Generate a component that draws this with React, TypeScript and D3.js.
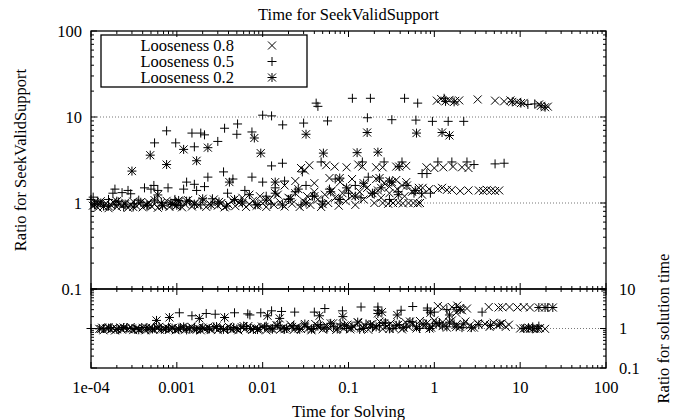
import * as d3 from "d3";

// ---- data: [time for solving, ratio] ----
// upper panel: ratio for SeekValidSupport
const topLoose08: [number, number][] = [
  [1.07, 15.5], [1.2, 16.2], [1.5, 15.8], [1.75, 15.4], [1.95, 15.6], [3.2, 16], [5.1, 15.5], [6.5, 15.2],
  [7.7, 15.6], [9.2, 15], [11, 14.6], [16.6, 14], [21, 13.2],
  [0.031, 2.4], [0.069, 2.65], [0.095, 2.6], [0.145, 2.65], [0.21, 2.6], [0.36, 2.65], [0.47, 2.7], [0.81, 2.6],
  [1.0, 2.55], [1.27, 2.6], [1.65, 2.65], [2.1, 2.6], [2.5, 2.55], [0.028, 2.55], [0.035, 2.75], [0.055, 2.75],
  [0.13, 2.8], [0.25, 2.6],
  [0.73, 1.5], [0.87, 1.45], [1.1, 1.45], [1.23, 1.5], [1.4, 1.42], [1.6, 1.42], [2.0, 1.38], [2.5, 1.4],
  [3.3, 1.4], [3.7, 1.38], [4.1, 1.42], [4.6, 1.4], [5.1, 1.38], [5.7, 1.4],
  [0.25, 1.0], [0.29, 0.98], [0.33, 1.0], [0.38, 1.01], [0.43, 0.99], [0.5, 1.0], [0.57, 1.0], [0.64, 0.99], [0.68, 1.0],
  [0.21, 1.9], [0.26, 1.7], [0.3, 1.55], [0.36, 1.85], [0.42, 1.6], [0.47, 1.75], [0.06, 1.95], [0.08, 1.75],
  [0.11, 1.9], [0.15, 1.6], [0.018, 1.6], [0.024, 1.8], [0.04, 1.7],
  [0.000105, 0.93], [0.00011, 1.02], [0.00012, 0.88], [0.000125, 0.97], [0.00013, 1.05], [0.00014, 0.91],
  [0.00015, 0.99], [0.00016, 0.87], [0.00017, 0.95], [0.00018, 1.03], [0.0002, 0.9], [0.00021, 0.98],
  [0.00023, 0.93], [0.00025, 1.01], [0.00027, 0.88], [0.00029, 0.96], [0.00031, 1.04], [0.00034, 0.92],
  [0.00037, 0.99], [0.0004, 0.89], [0.00043, 0.95], [0.00047, 1.02], [0.00051, 0.91], [0.00055, 0.97],
  [0.0006, 0.88], [0.00065, 1.0], [0.0007, 0.93], [0.00076, 1.06], [0.00082, 0.9], [0.0009, 0.97],
  [0.00098, 0.92], [0.00105, 1.03], [0.00115, 0.89], [0.00125, 0.96], [0.00135, 1.08], [0.0015, 0.91],
  [0.0016, 0.99], [0.0018, 0.94], [0.002, 1.05], [0.0022, 0.9], [0.0024, 0.98], [0.0027, 1.1], [0.003, 0.93],
  [0.0033, 1.0], [0.0036, 0.89], [0.004, 0.96], [0.0044, 1.07], [0.0048, 0.92], [0.0053, 1.0], [0.0058, 1.15],
  [0.0064, 0.9], [0.007, 0.97], [0.0077, 1.06], [0.0085, 0.93], [0.0093, 1.2], [0.01, 0.99], [0.011, 0.9],
  [0.012, 1.1], [0.0135, 0.95], [0.015, 1.25], [0.016, 1.02], [0.018, 0.91], [0.02, 1.15], [0.022, 0.98],
  [0.024, 1.3], [0.027, 0.9], [0.03, 1.05], [0.033, 1.2], [0.036, 0.95], [0.04, 1.35], [0.044, 1.1],
  [0.048, 0.9], [0.053, 1.25], [0.058, 1.0], [0.064, 1.4], [0.07, 1.15], [0.077, 0.93], [0.085, 1.3],
  [0.093, 1.05], [0.1, 1.45], [0.11, 1.2], [0.12, 0.95], [0.135, 1.35], [0.15, 1.1], [0.165, 1.5],
  [0.18, 1.25], [0.2, 1.0], [0.22, 1.4], [0.24, 1.15], [0.3, 1.3], [0.37, 1.45], [0.45, 1.2], [0.55, 1.35],
  [0.66, 1.5], [0.72, 1.25],
];
const topLoose05: [number, number][] = [
  [0.111, 16.5], [0.18, 16.5], [0.45, 16.5], [0.64, 14.5], [1.3, 16.5], [12.3, 14], [14.8, 14.2], [0.042, 14.5], [0.044, 13.3],
  [0.01, 10.5], [0.0127, 10.3], [0.0171, 8.1], [0.03, 8.5], [0.057, 9.0], [0.166, 9.8], [0.32, 9.3], [0.61, 9.2],
  [0.95, 8.9], [1.45, 8.9], [2.2, 8.9],
  [0.00076, 6.9], [0.0015, 6.5], [0.0019, 6.5], [0.0021, 6.2], [0.003, 5.2], [0.0036, 7.4], [0.0051, 8.3],
  [0.005, 6.3], [0.0075, 6.7], [0.00055, 5.0], [0.00097, 5.0], [0.0016, 4.5],
  [0.0127, 2.7], [0.017, 2.9], [0.0023, 2.0], [0.0035, 2.3], [0.0075, 2.0], [0.01, 1.75], [0.029, 2.3],
  [0.048, 3.0], [0.145, 3.0], [0.26, 3.0], [0.42, 3.0], [1.1, 3.0], [1.6, 3.0], [2.4, 3.0], [0.72, 2.2],
  [0.82, 2.2], [0.58, 1.3], [2.9, 2.8], [5.1, 2.85], [6.5, 2.9], [0.71, 1.3], [0.9, 1.3],
  [0.000106, 1.17], [0.00019, 1.45], [0.00027, 1.4], [0.00042, 1.5], [0.0005, 1.45], [0.0006, 1.4],
  [0.00079, 1.5], [0.0012, 1.45], [0.0013, 1.75], [0.0017, 1.4],
  [0.0001, 1.1], [0.00011, 0.97], [0.00012, 1.05], [0.00014, 0.92], [0.00016, 1.1], [0.00018, 1.3],
  [0.00019, 0.95], [0.00021, 1.03], [0.00023, 1.32], [0.00024, 0.9], [0.00029, 1.28], [0.00032, 0.98],
  [0.00036, 1.08], [0.00045, 0.93], [0.00054, 1.6], [0.00066, 1.02], [0.00088, 0.96], [0.00095, 1.1],
  [0.0011, 0.93], [0.0014, 1.05], [0.0016, 1.65], [0.0019, 0.95], [0.0021, 1.55], [0.0026, 1.12],
  [0.003, 0.98], [0.0039, 1.3], [0.0045, 1.9], [0.0056, 1.05], [0.0062, 1.4], [0.0082, 0.95], [0.011, 1.2],
  [0.0125, 0.97], [0.014, 1.5], [0.018, 1.8], [0.02, 1.1], [0.024, 1.35], [0.028, 0.95], [0.032, 1.6],
  [0.038, 1.2], [0.05, 1.05], [0.06, 1.45], [0.07, 1.9], [0.08, 1.1], [0.1, 1.3], [0.12, 1.6], [0.14, 1.15],
  [0.17, 2.0], [0.2, 1.3], [0.3, 1.1], [0.38, 1.35],
];
const topLoose02: [number, number][] = [
  [1.35, 15.2], [1.7, 15], [8.1, 15], [10.2, 14.5], [17.5, 13.5], [19.5, 13],
  [0.0003, 2.35], [0.00049, 3.6], [0.00076, 2.8], [0.0012, 4.2], [0.0017, 3.1], [0.0023, 4.4], [0.008, 5.7],
  [0.0095, 3.8], [0.032, 6.3], [0.051, 3.8], [0.165, 6.6], [0.126, 3.85], [0.22, 3.9], [0.62, 6.5],
  [1.23, 6.6], [1.5, 6.1], [0.39, 2.65], [0.079, 1.95], [0.23, 1.95], [0.32, 1.75], [0.0041, 1.75], [0.014, 1.75],
  [0.00105, 1.07], [0.0006, 1.24],
  [0.00011, 0.95], [0.00013, 1.0], [0.00016, 0.92], [0.0002, 1.05], [0.00025, 0.97], [0.00031, 0.9],
  [0.00038, 1.02], [0.00045, 0.95], [0.00055, 1.08], [0.00068, 0.93], [0.00085, 1.0], [0.001, 0.94],
  [0.0013, 1.05], [0.0016, 0.97], [0.002, 1.12], [0.0025, 0.95], [0.0031, 1.03], [0.0038, 0.92],
  [0.0047, 1.1], [0.0058, 1.0], [0.007, 1.25], [0.0088, 0.96], [0.011, 1.08], [0.014, 1.3], [0.017, 0.95],
  [0.021, 1.12], [0.026, 1.45], [0.032, 1.0], [0.04, 1.2], [0.05, 0.97], [0.062, 1.35], [0.078, 1.1],
  [0.095, 1.5], [0.12, 1.2], [0.15, 1.7], [0.19, 1.3], [0.24, 1.5], [0.3, 1.8], [0.38, 1.25], [0.48, 1.6],
  [0.6, 1.4],
];

// lower panel: ratio for solution time
const botLoose08: [number, number][] = [
  [1.1, 3.7], [1.27, 3.4], [1.6, 3.5], [1.85, 3.8], [2.0, 3.3], [2.4, 3.2], [4.3, 3.5], [5.6, 3.4], [6.2, 3.45],
  [7.5, 3.5], [9.3, 3.4], [11, 3.5], [13, 3.4], [1.8, 2.5], [2.1, 2.9],
  [3.9, 1.3], [4.4, 1.1], [4.9, 1.4], [5.5, 1.2], [6.1, 1.35], [6.8, 1.1], [7.4, 1.25], [10, 1.0], [11.5, 1.02],
  [13, 0.98], [15, 1.0], [17, 1.02], [19.5, 0.98],
  [0.00013, 0.97], [0.000135, 1.05], [0.00014, 0.9], [0.00015, 1.0], [0.00016, 1.08], [0.00017, 0.94],
  [0.00018, 1.02], [0.00019, 0.89], [0.0002, 0.98], [0.00022, 1.06], [0.00023, 0.93], [0.00025, 1.01],
  [0.00027, 0.96], [0.00029, 1.09], [0.00031, 0.91], [0.00034, 1.0], [0.00037, 0.95], [0.0004, 1.04],
  [0.00043, 0.9], [0.00047, 0.99], [0.0005, 1.07], [0.00054, 0.94], [0.00059, 1.02], [0.00064, 0.92],
  [0.0007, 1.0], [0.00076, 1.08], [0.00082, 0.95], [0.0009, 1.03], [0.00097, 0.9], [0.00105, 0.98],
  [0.00115, 1.06], [0.00125, 0.93], [0.00135, 1.0], [0.00148, 1.1], [0.0016, 0.95], [0.00175, 1.03],
  [0.0019, 0.9], [0.0021, 0.99], [0.0023, 1.08], [0.0025, 0.94], [0.0028, 1.02], [0.003, 0.91],
  [0.0033, 1.05], [0.0036, 0.97], [0.004, 1.12], [0.0044, 0.93], [0.0048, 1.01], [0.0052, 0.9],
  [0.0057, 1.08], [0.0062, 0.96], [0.0068, 1.15], [0.0075, 0.92], [0.0082, 1.03], [0.009, 0.97],
  [0.0098, 1.12], [0.011, 0.9], [0.012, 1.05], [0.013, 0.98], [0.0145, 1.2], [0.016, 0.93], [0.0175, 1.08],
  [0.019, 1.0], [0.021, 1.25], [0.023, 0.92], [0.025, 1.1], [0.028, 0.97], [0.031, 1.18], [0.034, 1.02],
  [0.037, 0.9], [0.041, 1.3], [0.045, 1.05], [0.05, 0.95], [0.055, 1.2], [0.06, 1.0], [0.066, 1.35],
  [0.072, 0.92], [0.08, 1.12], [0.088, 1.0], [0.097, 1.25], [0.105, 0.95], [0.115, 1.1], [0.13, 1.4],
  [0.14, 1.0], [0.155, 1.2], [0.17, 0.93], [0.19, 1.3], [0.21, 1.05], [0.23, 1.5], [0.25, 0.97],
  [0.28, 1.15], [0.31, 1.35], [0.34, 1.0], [0.38, 1.25], [0.42, 0.95], [0.46, 1.45], [0.5, 1.1],
  [0.56, 1.3], [0.62, 1.0], [0.68, 1.55], [0.75, 1.15], [0.83, 1.4], [0.92, 1.05], [1.0, 1.6], [1.1, 1.2],
  [1.25, 1.45], [1.4, 1.05], [1.6, 1.6], [1.8, 1.25], [2.0, 1.1], [2.3, 1.5], [2.6, 1.2], [2.9, 1.05], [3.2, 1.35],
];
const botLoose05: [number, number][] = [
  [0.0001, 1.0], [0.00107, 2.5], [0.0015, 2.1], [0.0022, 2.4], [0.0028, 2.3], [0.0047, 2.5], [0.0067, 2.35],
  [0.0071, 2.2], [0.0095, 2.5], [0.0127, 2.8], [0.0166, 2.7], [0.0236, 2.6], [0.04, 2.6], [0.053, 3.2],
  [0.085, 2.8], [0.14, 3.5], [0.22, 3.5], [0.22, 2.9], [0.41, 2.9], [0.56, 3.6], [0.83, 3.3], [0.83, 2.9],
  [1.0, 2.6], [1.4, 3.0], [1.8, 3.4], [3.6, 2.6], [21, 3.4], [16.5, 1.15], [14, 1.1],
  [0.00014, 1.0], [0.00017, 1.05], [0.00021, 0.95], [0.00026, 1.03], [0.00032, 0.97], [0.00039, 1.06],
  [0.00046, 0.93], [0.00055, 1.02], [0.00066, 0.96], [0.0008, 1.08], [0.00095, 0.98], [0.0011, 1.04],
  [0.0013, 0.92], [0.0016, 1.07], [0.0019, 1.0], [0.0023, 0.94], [0.0027, 1.1], [0.0032, 1.0], [0.0039, 0.95],
  [0.0046, 1.06], [0.0055, 1.0], [0.0065, 1.12], [0.0078, 0.95], [0.0093, 1.05], [0.011, 1.15], [0.013, 0.96],
  [0.016, 1.08], [0.019, 1.0], [0.023, 1.2], [0.027, 0.95], [0.033, 1.1], [0.039, 1.0], [0.047, 1.25],
  [0.056, 0.97], [0.067, 1.1], [0.08, 1.3], [0.095, 1.0], [0.11, 1.15], [0.135, 0.95], [0.16, 1.3],
  [0.19, 1.05], [0.23, 1.2], [0.27, 1.4], [0.33, 1.0], [0.39, 1.25], [0.47, 1.1], [0.56, 1.45], [0.67, 1.0],
  [0.8, 1.3], [0.95, 1.15], [1.15, 1.4], [1.4, 1.1], [1.7, 1.3], [2.1, 1.05],
];
const botLoose02: [number, number][] = [
  [0.00058, 1.6], [0.00082, 1.9], [0.00183, 1.8], [0.0036, 1.9], [0.0114, 2.1], [0.0158, 1.8], [0.046, 2.1],
  [0.086, 2.0], [0.22, 2.4], [0.245, 2.6], [0.37, 2.2], [0.9, 2.5], [2.0, 3.0], [16.5, 3.4], [19.5, 3.4],
  [24, 3.4], [1.5, 2.2],
  [0.000125, 0.98], [0.00016, 1.02], [0.0002, 0.95], [0.00024, 1.06], [0.0003, 1.0], [0.00036, 0.93],
  [0.00044, 1.04], [0.00052, 0.97], [0.00062, 1.1], [0.00074, 0.95], [0.00088, 1.02], [0.00105, 0.96],
  [0.0012, 1.1], [0.0014, 0.99], [0.0017, 0.93], [0.002, 1.05], [0.0024, 0.98], [0.0029, 1.12], [0.0035, 0.95],
  [0.0042, 1.03], [0.005, 0.97], [0.006, 1.15], [0.0072, 1.0], [0.0087, 0.94], [0.0105, 1.1], [0.0125, 1.0],
  [0.015, 1.2], [0.018, 0.96], [0.022, 1.1], [0.026, 1.0], [0.031, 1.3], [0.037, 0.96], [0.044, 1.15],
  [0.052, 1.05], [0.062, 1.35], [0.074, 0.97], [0.09, 1.2], [0.107, 1.05], [0.128, 1.45], [0.15, 1.0],
  [0.18, 1.25], [0.21, 1.1], [0.26, 1.35], [0.3, 0.98], [0.36, 1.2], [0.44, 1.05], [0.52, 1.5], [0.62, 1.1],
  [0.74, 1.3], [0.88, 1.0], [1.05, 1.35], [1.25, 1.15], [1.5, 1.45], [1.8, 1.1], [2.2, 1.3], [2.7, 1.05],
  [3.3, 1.25], [4.5, 1.2], [5.8, 1.3], [11, 1.0], [12.5, 1.05], [14, 0.98], [16, 1.0],
];

const seriesNames = ["Looseness 0.8", "Looseness 0.5", "Looseness 0.2"];
const seriesShapes = ["cross", "plus", "star"];
const xTicks = [1e-4, 1e-3, 1e-2, 0.1, 1, 10, 100];
const xTickLabels = ["1e-04", "0.001", "0.01", "0.1", "1", "10", "100"];
const yTopTicks = [0.1, 1, 10, 100];
const yTopLabels = ["0.1", "1", "10", "100"];
const yBotTicks = [0.1, 1, 10];
const yBotLabels = ["0.1", "1", "10"];

const W = 676;
const H = 420;
const txt = { fontFamily: "Liberation Serif, Times New Roman, serif", fontSize: 16.5 };

function marker(shape: string, cx: number, cy: number) {
  const p = 4.5;
  const c = 4;
  const plus = `M${cx - p},${cy}H${cx + p}M${cx},${cy - p}V${cy + p}`;
  const cross = `M${cx - c},${cy - c}L${cx + c},${cy + c}M${cx - c},${cy + c}L${cx + c},${cy - c}`;
  if (shape === "plus") return plus;
  if (shape === "cross") return cross;
  return plus + cross;
}

const isMajor = (v: number) => Math.abs(Math.log10(v) - Math.round(Math.log10(v))) < 1e-6;

export default function App() {
  const x = d3.scaleLog().domain([1e-4, 100]).range([91, 606]);
  const yTop = d3.scaleLog().domain([0.1, 100]).range([289, 31]);
  const yBot = d3.scaleLog().domain([0.1, 10]).range([368, 289]);
  const [x0, x1] = x.range();
  const topPanel = { y: yTop, data: [topLoose08, topLoose05, topLoose02] };
  const botPanel = { y: yBot, data: [botLoose08, botLoose05, botLoose02] };

  const ticksFor = (
    s: d3.ScaleLogarithmic<number, number>,
    pos: (v: number, len: number) => string
  ) =>
    s.ticks().map((v, i) => (
      <path key={i} d={pos(s(v), isMajor(v) ? 6 : 3)} stroke="#000" strokeWidth={1} fill="none" />
    ));

  const panelFrame = (y: d3.ScaleLogarithmic<number, number>, grid: number[]) => {
    const [yb, yt] = y.range();
    return (
      <g>
        {grid.map((g) => (
          <line key={g} x1={x0} x2={x1} y1={y(g)} y2={y(g)} stroke="#777" strokeWidth={1} strokeDasharray="1,2" />
        ))}
        {ticksFor(y, (v, l) => `M${x0},${v}h${l}M${x1},${v}h${-l}`)}
        {ticksFor(x, (v, l) => `M${v},${yt}v${l}M${v},${yb}v${-l}`)}
        <rect x={x0} y={yt} width={x1 - x0} height={yb - yt} fill="none" stroke="#000" strokeWidth={1.3} />
      </g>
    );
  };

  const points = (p: { y: d3.ScaleLogarithmic<number, number>; data: [number, number][][] }) =>
    p.data.map((series, si) => (
      <path
        key={si}
        d={series.map(([t, r]) => marker(seriesShapes[si], x(t), p.y(r))).join("")}
        stroke="#000"
        strokeWidth={1}
        fill="none"
      />
    ));

  return (
    <svg width={W} height={H} style={{ position: "absolute", left: 0, top: 0, background: "#fff" }}>
      <rect width={W} height={H} fill="#fff" />
      {panelFrame(yTop, [1, 10])}
      {panelFrame(yBot, [1])}
      {points(topPanel)}
      {points(botPanel)}

      <text style={txt} x={(x0 + x1) / 2} y={14} textAnchor="middle" dominantBaseline="central">
        Time for SeekValidSupport
      </text>
      {yTopTicks.map((v, i) => (
        <text style={txt} key={v} x={x0 - 9} y={yTop(v)} textAnchor="end" dominantBaseline="central">
          {yTopLabels[i]}
        </text>
      ))}
      {yBotTicks.map((v, i) => (
        <text style={txt} key={v} x={x1 + 13} y={yBot(v)} textAnchor="start" dominantBaseline="central">
          {yBotLabels[i]}
        </text>
      ))}
      {xTicks.map((v, i) => (
        <text style={txt} key={v} x={x(v)} y={387} textAnchor="middle" dominantBaseline="central">
          {xTickLabels[i]}
        </text>
      ))}
      <text style={txt} x={(x0 + x1) / 2} y={411} textAnchor="middle" dominantBaseline="central">
        Time for Solving
      </text>
      <text
        style={txt}
        transform={`translate(20,${(yTop.range()[0] + yTop.range()[1]) / 2}) rotate(-90)`}
        textAnchor="middle"
        dominantBaseline="central"
      >
        Ratio for SeekValidSupport
      </text>
      <text
        style={txt}
        transform={`translate(663,${(yBot.range()[0] + yBot.range()[1]) / 2}) rotate(-90)`}
        textAnchor="middle"
        dominantBaseline="central"
      >
        Ratio for solution time
      </text>

      <g>
        <rect x={101} y={35} width={206} height={52} fill="none" stroke="#000" strokeWidth={1.3} />
        {seriesNames.map((name, i) => (
          <g key={name}>
            <text style={txt} x={234} y={45.5 + i * 16} textAnchor="end" dominantBaseline="central">
              {name}
            </text>
            <path d={marker(seriesShapes[i], 272, 45.5 + i * 16)} stroke="#000" strokeWidth={1} fill="none" />
          </g>
        ))}
      </g>
    </svg>
  );
}
